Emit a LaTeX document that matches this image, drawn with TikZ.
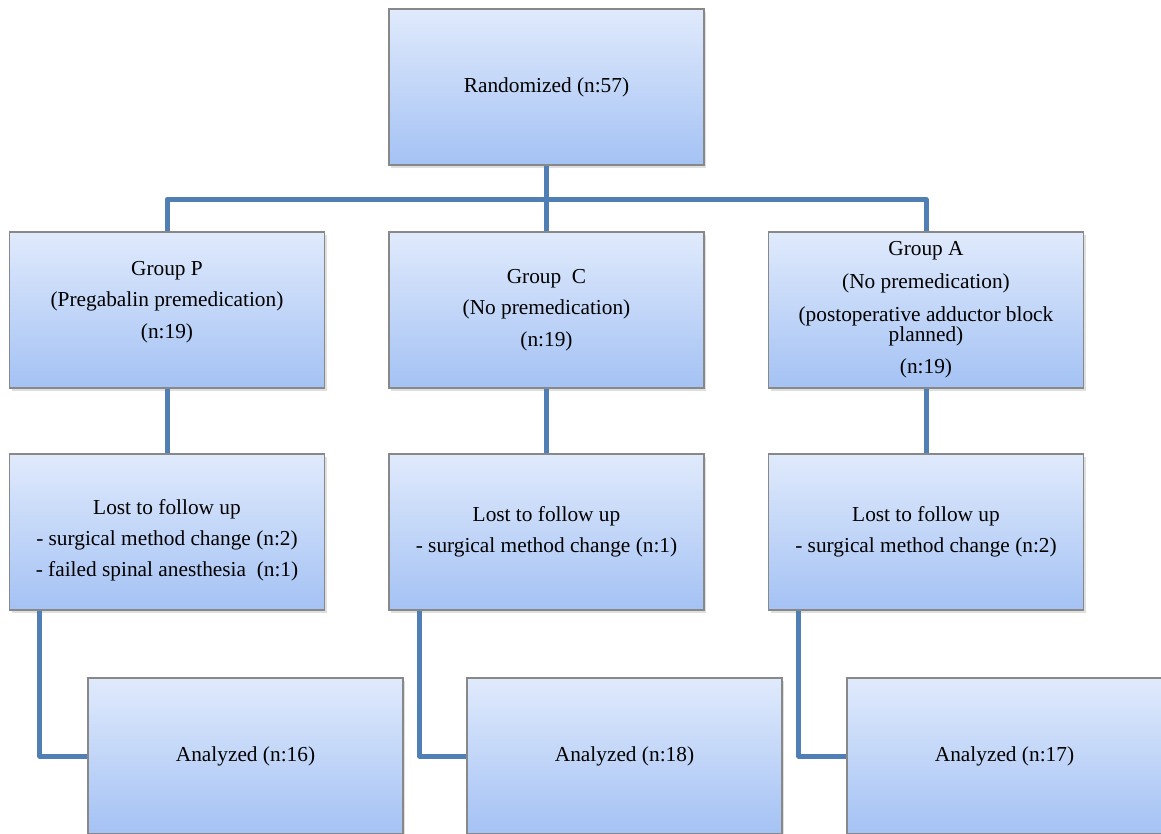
\documentclass[tikz,border=0pt]{standalone}
\usepackage{fontspec}
\setmainfont{Liberation Serif}
\usetikzlibrary{shadows,calc}
\definecolor{boxtop}{RGB}{224,234,252}
\definecolor{boxbot}{RGB}{164,194,244}
\definecolor{boxline}{RGB}{136,136,136}
\definecolor{linkblue}{RGB}{79,127,181}
\tikzset{
  box/.style={rectangle, draw=boxline, line width=0.8pt, top color=boxtop, bottom color=boxbot,
    minimum width=236.25pt, minimum height=117pt, inner sep=0pt, align=center,
    font=\fontsize{16}{23.5}\selectfont,
    drop shadow={opacity=0.25, shadow xshift=1.5pt, shadow yshift=-2pt}},
  link/.style={draw=linkblue, line width=3.75pt, line join=round}
}
\begin{document}
\begin{tikzpicture}[x=0.75pt,y=-0.75pt]
\useasboundingbox (0,0) rectangle (1161,833);
% top
\node[box] (rand) at (546.5,87) {Randomized (n:57)};
% groups
\node[box] (grpP) at (167,310) {Group P\\(Pregabalin premedication)\\(n:19)\\[-8pt]\mbox{}};
\node[box] (grpC) at (546.5,310) {Group\ \ C\\(No premedication)\\(n:19)};
\node[box] (grpA) at (926,310) {Group A\\[1pt](No premedication)\\[1pt](postoperative adductor block\\[-8.5pt]planned)\\[1pt](n:19)};
% lost to follow up
\node[box] (lostP) at (167,532) {\mbox{}\\Lost to follow up\\- surgical method change (n:2)\\- failed spinal anesthesia\ \ (n:1)};
\node[box] (lostC) at (546.5,532) {Lost to follow up\\- surgical method change (n:1)};
\node[box] (lostA) at (926,532) {Lost to follow up\\- surgical method change (n:2)};
% analyzed
\node[box] (anaP) at (245.5,756) {Analyzed (n:16)};
\node[box] (anaC) at (624.5,756) {Analyzed (n:18)};
\node[box] (anaA) at (1004.5,756) {Analyzed (n:17)};
% connectors
\draw[link] (rand.south) -- (grpC.north);
\draw[link] (grpP.north) -- ++(0,-32) -| (grpA.north);
\draw[link] (grpP.south) -- (lostP.north);
\draw[link] (grpC.south) -- (lostC.north);
\draw[link] (grpA.south) -- (lostA.north);
\draw[link] ($(lostP.south west)+(31,0)$) |- (anaP.west);
\draw[link] ($(lostC.south west)+(31,0)$) |- (anaC.west);
\draw[link] ($(lostA.south west)+(31,0)$) |- (anaA.west);
\end{tikzpicture}
\end{document}
